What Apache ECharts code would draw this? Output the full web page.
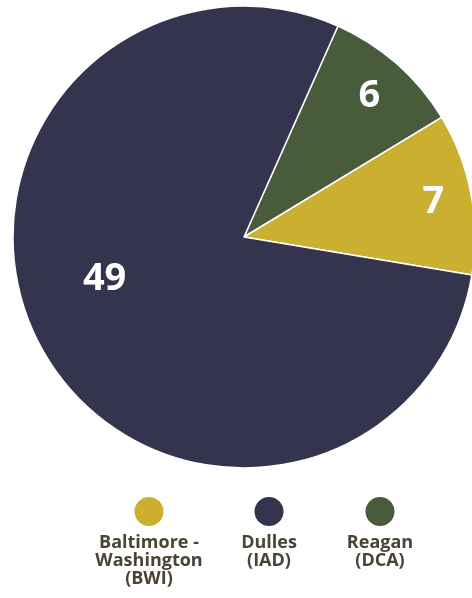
<!DOCTYPE html>
<html><head><meta charset="utf-8">
<script src="https://cdn.jsdelivr.net/npm/echarts@6/dist/echarts.min.js"></script>
<style>html,body{margin:0;padding:0;background:#fff}#c{width:472px;height:598px}</style>
</head><body><div id="c"></div>
<script>
// Data (pie order, clockwise from top-right)
const names = ['Reagan', 'Baltimore - Washington', 'Dulles'];
const values = [6, 7, 49];
const colors = ['#485b3a', '#cbaf30', '#35344e'];
// Legend
const legendOrder = ['Baltimore - Washington', 'Dulles', 'Reagan'];
const legendLabelLines = [['Baltimore -', 'Washington', '(BWI)'], ['Dulles', '(IAD)'], ['Reagan', '(DCA)']];
const legendColors = ['#cbaf30', '#35344e', '#485b3a'];

// layout / style helpers
const legendCenters = [148, 268, 379];
const labelShift = [[47, -52], [73, -13], [-35, -14]];
const TXT_W = 130;

const legends = legendOrder.map((name, i) => ({
  data: [name],
  left: legendCenters[i] - TXT_W / 2 - 5,
  top: 497,
  padding: 0,
  itemWidth: 0,
  itemHeight: 0,
  selectedMode: false,
  formatter: () => '{dot|}\n' + legendLabelLines[i].map(l => '{t|' + l + '}').join('\n'),
  textStyle: {
    color: '#4a4336',
    rich: {
      dot: { width: 29, height: 29, lineHeight: 37, verticalAlign: 'top', borderRadius: 14.5, backgroundColor: legendColors[i], align: 'center' },
      t: { width: TXT_W, align: 'center', fontFamily: 'Open Sans', fontWeight: 700, fontSize: 18, lineHeight: 18, color: '#4a4336' }
    }
  }
}));

const chart = echarts.init(document.getElementById('c'), null, { renderer: 'canvas' });
chart.setOption({
  animation: false,
  backgroundColor: '#ffffff',
  legend: legends,
  series: [{
    type: 'pie',
    center: [244, 237],
    radius: 231,
    startAngle: 66,
    clockwise: true,
    data: names.map((n, i) => ({ name: n, value: values[i], itemStyle: { color: colors[i] } })),
    itemStyle: { borderColor: '#ffffff', borderWidth: 1.5 },
    label: { show: true, position: 'inside', formatter: '{c}', color: '#ffffff', fontFamily: 'Open Sans', fontWeight: 700, fontSize: 38 },
    labelLine: { show: false },
    labelLayout: p => ({ dx: labelShift[p.dataIndex][0], dy: labelShift[p.dataIndex][1] }),
    emphasis: { disabled: true }
  }]
});
</script></body></html>
